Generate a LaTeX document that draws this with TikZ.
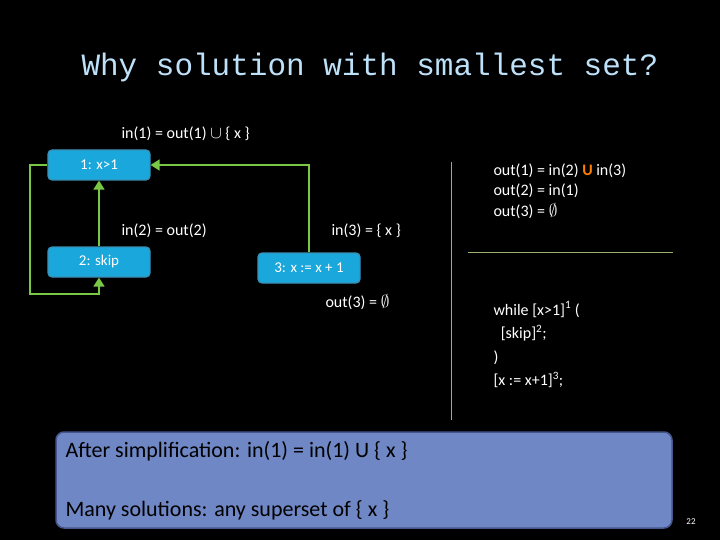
\documentclass[tikz,border=0pt]{standalone}
\usepackage{fontspec}
\setmainfont{Carlito}
\setmonofont{Liberation Mono}
\usetikzlibrary{arrows.meta}
\begin{document}
\begin{tikzpicture}[x=1pt,y=-1pt,
  blk/.style={draw=cyan!70!black,line width=1.2pt,fill={rgb,255:red,26;green,167;blue,220},rounded corners=4pt,minimum width=102pt,minimum height=30pt,text=white,font=\fontsize{15}{17}\selectfont},
  lbl/.style={text=white,font=\fontsize{16}{20}\selectfont,anchor=west},
  edge/.style={draw={rgb,255:red,120;green,200;blue,70},line width=1.6pt,-{Triangle[length=9pt,width=11pt]}},
  rule/.style={draw={rgb,255:red,150;green,180;blue,110},line width=0.8pt}]
\fill[black] (0,0) rectangle (720,540);
\useasboundingbox (0,0) rectangle (720,540);
\node[text={rgb,255:red,190;green,225;blue,250},font=\ttfamily\fontsize{31}{33}\selectfont,anchor=west] (title) at (78,67) {Why solution with smallest set?};
\node[blk] (b1) at (99,165) {1: x>1};
\node[blk] (b2) at (99,262) {2: skip};
\node[blk] (b3) at (309,268) {3: x := x + 1};
\node[lbl] (l1) at (118,134) {in(1) = out(1) $\cup$ \{ x \}};
\node[lbl] (l2) at (118,231) {in(2) = out(2)};
\node[lbl] (l3) at (328,231) {in(3) = \{ x \}};
\node[lbl] (l4) at (322,302) {out(3) = $\emptyset$};
\draw[edge] (b2.north) -- (b1.south);
\draw[edge] (b1.west) -- (30,165) -- (30,294) -- (99,294) -- (b2.south);
\draw[edge] (b3.north) -- (309,165) -- (b1.east);
\coordinate (v1) at (451,162); \coordinate (v2) at (451,420);
\draw[rule] (v1) -- (v2);
\coordinate (h1) at (468,252); \coordinate (h2) at (673,252);
\draw[rule] (h1) -- (h2);
\node[lbl,align=left,anchor=north west,font=\fontsize{16}{20.5}\selectfont] (eq) at (490,160) {out(1) = in(2) \textcolor{orange}{\textbf{U}} in(3)\\out(2) = in(1)\\out(3) = $\emptyset$};
\node[lbl,align=left,anchor=north west,font=\fontsize{16}{23.5}\selectfont] (prog) at (490,298) {while [x>1]\textsuperscript{1} (\\\ \ [skip]\textsuperscript{2};\\)\\{}[x := x+1]\textsuperscript{3};};
\node[draw={rgb,255:red,70;green,85;blue,140},line width=1.5pt,fill={rgb,255:red,112;green,135;blue,198},rounded corners=8pt,minimum width=616pt,minimum height=96pt] (box) at (364,480) {};
\node[anchor=west,font=\fontsize{22}{24}\selectfont] (t1) at (62,451) {After simplification: in(1) = in(1) U \{ x \}};
\node[anchor=west,font=\fontsize{22}{24}\selectfont] (t2) at (62,510) {Many solutions: any superset of \{ x \}};
\node[text=white,font=\fontsize{9}{10}\selectfont] (pg) at (691,522) {22};
\end{tikzpicture}
\end{document}
